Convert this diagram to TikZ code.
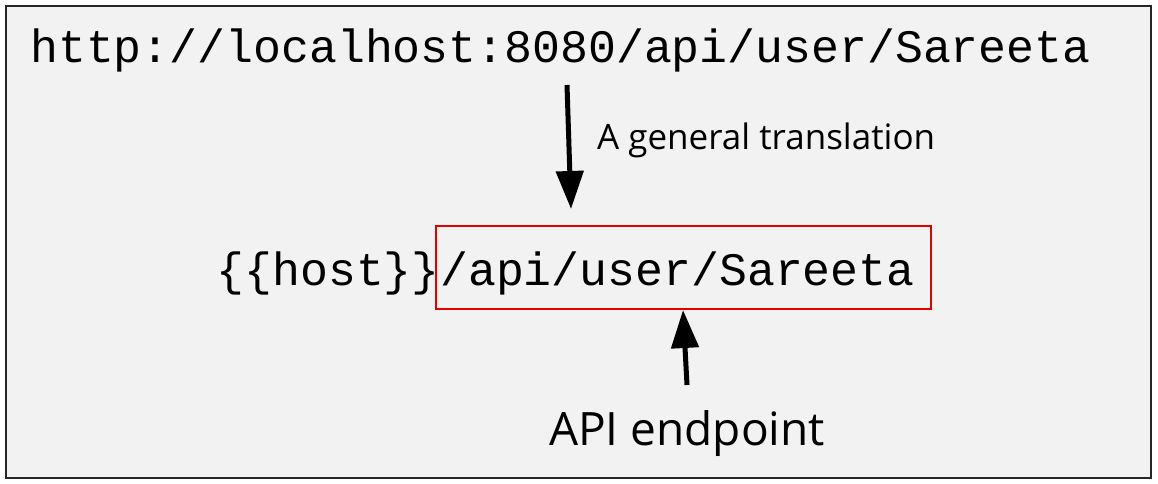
\documentclass[tikz,border=0pt]{standalone}
\usepackage{fontspec}
\setmainfont{Open Sans}
\setmonofont{Liberation Mono}
\usepackage{tikz}
\usetikzlibrary{arrows.meta, positioning}

\tikzset{
    urltext/.style={font=\ttfamily\fontsize{46.5}{50}\selectfont, inner sep=0pt},
    bigarrow/.style={line width=5pt, -{Triangle[length=38pt, width=27pt]}},
    epbox/.style={draw=red!90!black, line width=2pt, minimum width=495pt, minimum height=83pt, inner sep=0pt},
}

\begin{document}
\begin{tikzpicture}[x=1pt, y=-1pt]
    \useasboundingbox (0, 0) rectangle (1158, 484);
    \draw[line width=2pt, draw=black!85, fill=black!5] (6, 6) rectangle (1151, 478);

    \node[urltext, anchor=base west] (url) at (30, 63) {http://localhost:8080/api/user/Sareeta};

    \node[epbox] (ep) at (683.5, 267.5) {};
    \node[urltext, anchor=base west] (path) at (440, 285) {/api/user/Sareeta};
    \node[urltext, anchor=base east] (host) at (path.base west) {\{\{host\}\}};

    \coordinate (top) at (567, 85);
    \coordinate (mid) at (571, 209);
    \draw[bigarrow] (top) -- (mid);
    \node[font=\fontsize{35}{38}\selectfont, anchor=base west, inner sep=0pt] (trans) at (597, 149) {A general translation};

    \node[font=\fontsize{46}{50}\selectfont, anchor=base, inner sep=0pt] (api) at (687, 445) {API endpoint};
    \coordinate (low) at (687, 385);
    \draw[bigarrow] (low) -- (ep.south -| 683, 0);
\end{tikzpicture}
\end{document}
